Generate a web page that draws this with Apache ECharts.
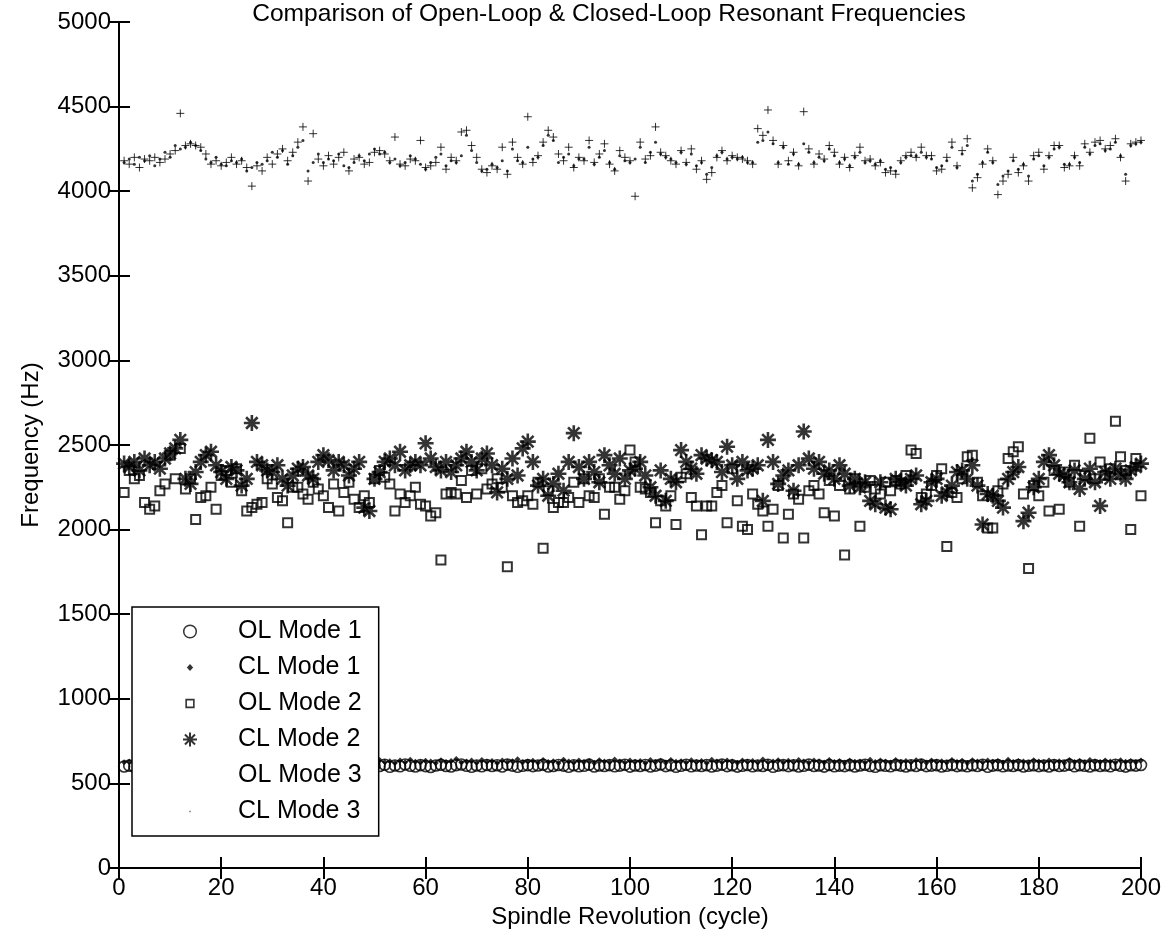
<!DOCTYPE html>
<html>
<head>
<meta charset="utf-8">
<script src="https://cdn.jsdelivr.net/npm/echarts@6/dist/echarts.min.js"></script>
<style>html,body{margin:0;padding:0;background:#fff}#c{width:1164px;height:941px}</style>
</head>
<body>
<div id="c"></div>
<script>
// x tick labels 0..200 step 20 ; y tick labels 0..5000 step 500
const xTicks = [0,20,40,60,80,100,120,140,160,180,200];
const yTicks = [0,500,1000,1500,2000,2500,3000,3500,4000,4500,5000];
const seriesNames = ['OL Mode 1','CL Mode 1','OL Mode 2','CL Mode 2','OL Mode 3','CL Mode 3'];

const olMode1 = [
600,605,598,610,603,612,600,607,595,608,602,610,604,598,606,611,600,603,609,601,
605,599,612,604,600,608,603,597,610,606,601,609,604,600,612,605,598,607,603,610,
600,606,611,602,598,607,604,609,600,605,603,610,598,606,601,612,604,600,608,602,
597,606,610,603,600,608,612,604,598,606,601,609,603,607,600,611,605,598,604,608,
602,606,610,600,603,609,605,598,607,601,604,611,600,606,603,608,601,605,610,599,
606,603,609,600,605,612,602,607,598,604,610,601,606,603,608,600,605,611,602,607,
599,604,609,601,606,603,610,598,605,608,602,607,600,604,611,603,606,599,609,601,
605,602,608,600,606,610,603,598,607,604,601,609,605,600,607,603,611,602,605,608,
600,604,609,602,606,601,607,603,610,598,605,608,601,606,603,609,600,604,607,602,
606,600,609,603,605,611,601,607,604,600,608,603,606,601,610,604,599,607,605,609];

const clMode1 = [
625,630,618,635,622,640,628,620,633,626,638,624,630,621,636,627,632,619,641,625,
629,634,622,637,626,631,620,639,627,633,624,636,628,621,642,630,625,634,619,637,
623,632,628,640,626,621,635,629,633,622,638,627,631,620,636,625,640,628,623,634,
630,621,637,626,632,644,624,629,635,622,639,628,633,621,636,627,631,642,625,630,
634,622,638,626,631,620,640,629,624,635,627,633,621,637,629,625,641,630,623,636,
628,632,620,638,626,634,622,639,628,631,624,637,627,633,621,640,629,625,635,630,
622,636,628,632,624,641,627,630,637,623,634,626,639,629,622,635,631,624,638,627,
633,621,636,628,630,624,640,626,635,629,623,638,627,632,625,637,630,622,636,628,
631,624,639,627,634,621,637,629,626,635,628,632,623,640,626,633,630,624,637,629,
625,636,628,631,622,639,627,634,624,638,629,626,635,630,623,637,628,632,625,636];

const olMode2 = [
2220,2350,2300,2320,2160,2120,2140,2230,2270,2440,2300,2480,2240,2300,2060,2190,2200,2250,2120,2320,
2350,2280,2360,2230,2110,2130,2150,2160,2300,2270,2190,2170,2040,2250,2250,2210,2180,2280,2240,2200,
2130,2270,2110,2220,2280,2180,2130,2200,2160,2300,2350,2310,2270,2110,2210,2160,2200,2250,2150,2140,
2080,2100,1820,2210,2220,2210,2290,2190,2350,2210,2360,2240,2270,2300,2250,1780,2200,2160,2170,2200,
2150,2280,1890,2230,2130,2160,2160,2190,2280,2160,2300,2200,2190,2300,2090,2250,2250,2180,2230,2470,
2400,2250,2240,2220,2040,2170,2140,2200,2030,2310,2330,2190,2140,1970,2140,2140,2220,2260,2040,2360,
2170,2020,2000,2210,2150,2110,2020,2120,2260,1950,2090,2210,2180,1950,2230,2260,2210,2100,2290,2080,
2260,1850,2240,2300,2020,2250,2290,2240,2210,2280,2230,2290,2270,2320,2470,2450,2190,2210,2260,2320,
2360,1900,2220,2190,2300,2430,2440,2280,2200,2010,2010,2230,2270,2420,2460,2490,2210,1770,2260,2200,
2280,2110,2350,2120,2340,2280,2380,2020,2320,2540,2300,2400,2320,2360,2640,2430,2350,2000,2420,2200];

const clMode2 = [
2390,2370,2400,2350,2420,2380,2400,2360,2420,2450,2480,2530,2300,2270,2340,2400,2440,2460,2380,2340,
2300,2370,2350,2260,2300,2630,2400,2380,2350,2340,2380,2300,2260,2320,2360,2370,2320,2300,2400,2440,
2410,2350,2400,2380,2320,2360,2400,2130,2110,2300,2340,2400,2420,2380,2460,2350,2380,2400,2380,2510,
2420,2370,2350,2400,2340,2380,2420,2460,2400,2350,2420,2450,2380,2220,2360,2300,2420,2320,2480,2520,
2400,2260,2300,2200,2270,2330,2230,2400,2570,2370,2300,2400,2340,2280,2440,2380,2330,2420,2300,2350,
2360,2400,2320,2250,2200,2350,2170,2300,2280,2470,2400,2360,2330,2440,2420,2410,2400,2340,2490,2380,
2300,2400,2350,2360,2380,2170,2530,2400,2270,2320,2350,2230,2380,2580,2420,2360,2400,2330,2350,2300,
2380,2330,2260,2300,2250,2280,2170,2150,2280,2130,2120,2300,2280,2260,2300,2320,2150,2170,2280,2300,
2200,2220,2260,2340,2350,2300,2380,2260,2030,2210,2200,2170,2130,2300,2340,2370,2050,2100,2250,2300,
2400,2440,2380,2330,2320,2280,2350,2240,2300,2360,2280,2140,2340,2300,2360,2330,2300,2350,2370,2390];

const olMode3 = [
4180,4160,4200,4140,4190,4180,4200,4170,4190,4220,4240,4460,4270,4280,4270,4260,4220,4160,4180,4150,
4170,4200,4160,4180,4140,4030,4150,4120,4200,4160,4220,4250,4180,4230,4290,4380,4060,4340,4190,4150,
4210,4160,4200,4230,4120,4190,4200,4160,4170,4230,4240,4220,4180,4320,4160,4150,4190,4180,4300,4140,
4150,4170,4260,4130,4200,4180,4350,4360,4270,4200,4130,4110,4150,4130,4260,4100,4290,4200,4160,4440,
4170,4210,4290,4360,4320,4220,4180,4260,4140,4200,4180,4300,4170,4220,4280,4160,4120,4240,4200,4180,
3970,4290,4190,4210,4380,4230,4210,4180,4160,4240,4170,4250,4130,4180,4070,4110,4200,4240,4180,4210,
4200,4190,4180,4160,4370,4330,4480,4300,4160,4270,4180,4230,4150,4470,4250,4160,4220,4190,4270,4230,
4160,4200,4140,4210,4260,4180,4190,4150,4170,4110,4120,4100,4180,4210,4230,4200,4260,4210,4210,4120,
4130,4200,4290,4150,4240,4310,4020,4080,4160,4250,4180,3980,4060,4100,4200,4110,4150,4060,4210,4230,
4130,4210,4270,4270,4140,4150,4210,4150,4280,4230,4290,4300,4250,4270,4310,4200,4060,4280,4290,4300];

const clMode3 = [
4170,4190,4160,4200,4180,4210,4150,4190,4230,4200,4270,4250,4260,4290,4270,4240,4190,4170,4200,4160,
4150,4180,4170,4190,4120,4140,4170,4160,4180,4230,4200,4240,4160,4210,4260,4300,4120,4170,4220,4170,
4190,4180,4220,4150,4140,4170,4210,4180,4220,4250,4220,4230,4170,4190,4150,4170,4210,4190,4160,4130,
4170,4200,4220,4150,4180,4170,4210,4330,4240,4170,4120,4130,4160,4140,4180,4120,4250,4180,4170,4260,
4190,4200,4270,4330,4300,4170,4200,4220,4150,4190,4190,4260,4160,4200,4240,4170,4130,4210,4180,4170,
4190,4260,4170,4230,4290,4220,4200,4190,4170,4230,4160,4220,4150,4170,4100,4140,4210,4230,4190,4200,
4190,4200,4170,4170,4290,4300,4350,4280,4170,4260,4160,4220,4160,4280,4230,4170,4200,4180,4250,4210,
4170,4190,4150,4200,4230,4170,4180,4160,4180,4130,4140,4120,4170,4200,4210,4210,4230,4200,4190,4140,
4150,4180,4260,4140,4220,4270,4060,4100,4170,4230,4170,4040,4090,4120,4180,4130,4160,4090,4190,4210,
4150,4200,4250,4260,4160,4160,4200,4170,4260,4220,4270,4280,4240,4250,4290,4210,4100,4270,4280,4290];

const FONT = '"Liberation Sans", Arial, Helvetica, sans-serif';
const toPairs = arr => arr.map((v, i) => [i + 1, v]);

const STAR = 'path://M0,-1L0,1M-1,0L1,0M-0.72,-0.72L0.72,0.72M-0.72,0.72L0.72,-0.72';
const PLUS = 'path://M0,-1L0,1M-1,0L1,0';
// legend icons: invisible corner moves keep the icon box, the visible part sets the size
const ICON_DOT = 'path://M-1,-1M1,1M-0.45,0L0,-0.5L0.45,0L0,0.5Z';
const ICON_SQ = 'path://M-1,-1M1,1M-0.55,-0.55L0.55,-0.55L0.55,0.55L-0.55,0.55Z';
const ICON_CIRC = 'path://M-1,-1M1,1M0.9,0A0.9,0.9,0,1,1,-0.9,0A0.9,0.9,0,1,1,0.9,0Z';
const ICON_PT = 'path://M-1,-1M1,1M-0.12,-0.12L0.12,-0.12L0.12,0.12L-0.12,0.12Z';

const chart = echarts.init(document.getElementById('c'), null, {renderer: 'canvas'});

const hollow = w => ({color: 'rgba(0,0,0,0)', borderColor: '#000', borderWidth: w});

const axisCommon = {
  axisLine: {show: true, lineStyle: {color: '#000', width: 2}},
  axisTick: {show: true, inside: true, length: 11, lineStyle: {color: '#000', width: 2}},
  splitLine: {show: false}
};

const option = {
  animation: false,
  backgroundColor: '#fff',
  title: {
    text: 'Comparison of Open-Loop & Closed-Loop Resonant Frequencies',
    left: 604, top: -3, textAlign: 'center',
    textStyle: {fontFamily: FONT, fontSize: 24.6, fontWeight: 'normal', color: '#000'}
  },
  grid: {left: 119, right: 22, top: 22, bottom: 73, containLabel: false},
  legend: {
    orient: 'vertical', left: 132, top: 607,
    backgroundColor: '#fff', borderColor: '#000', borderWidth: 1.5,
    padding: [12, 17, 12, 50],
    itemWidth: 86, itemHeight: 14, itemGap: 11,
    selectedMode: false,
    textStyle: {fontFamily: FONT, fontSize: 25, color: '#000', lineHeight: 25},
    data: [
      {name: seriesNames[0], icon: ICON_CIRC, itemStyle: hollow(1.5)},
      {name: seriesNames[1], icon: ICON_DOT, itemStyle: {color: '#000', borderWidth: 0}},
      {name: seriesNames[2], icon: ICON_SQ, itemStyle: hollow(1.6)},
      {name: seriesNames[3], icon: STAR, itemStyle: hollow(2)},
      {name: seriesNames[4], icon: ICON_SQ, itemStyle: {opacity: 0}},
      {name: seriesNames[5], icon: ICON_PT, itemStyle: {color: '#666', borderWidth: 0}}
    ]
  },
  xAxis: [Object.assign({
    type: 'value', min: xTicks[0], max: xTicks[xTicks.length - 1], interval: xTicks[1] - xTicks[0],
    name: 'Spindle Revolution (cycle)', nameLocation: 'middle', nameGap: 35,
    nameTextStyle: {fontFamily: FONT, fontSize: 24, color: '#000'},
    axisLabel: {fontFamily: FONT, fontSize: 24, color: '#000', margin: 8, formatter: v => String(v)}
  }, axisCommon), Object.assign({
    type: 'value', min: xTicks[0], max: xTicks[xTicks.length - 1], interval: xTicks[1] - xTicks[0], position: 'top',
    axisLabel: {show: false}
  }, axisCommon)],
  yAxis: [Object.assign({
    type: 'value', min: yTicks[0], max: yTicks[yTicks.length - 1], interval: yTicks[1] - yTicks[0],
    name: 'Frequency (Hz)', nameLocation: 'middle', nameGap: 76, nameRotate: 90,
    nameTextStyle: {fontFamily: FONT, fontSize: 24, color: '#000'},
    axisLabel: {fontFamily: FONT, fontSize: 24, color: '#000', margin: 8, formatter: v => String(v)}
  }, axisCommon), Object.assign({
    type: 'value', min: yTicks[0], max: yTicks[yTicks.length - 1], interval: yTicks[1] - yTicks[0], position: 'right',
    axisLabel: {show: false}
  }, axisCommon)],
  series: [
    {name: seriesNames[0], type: 'scatter', data: toPairs(olMode1), symbol: 'circle', symbolSize: 11, itemStyle: hollow(1.6), z: 2},
    {name: seriesNames[1], type: 'scatter', data: toPairs(clMode1), symbol: 'diamond', symbolSize: 6, itemStyle: {color: '#000'}, z: 3},
    {name: seriesNames[2], type: 'scatter', data: toPairs(olMode2), symbol: 'rect', symbolSize: 9, itemStyle: hollow(2), z: 2},
    {name: seriesNames[3], type: 'scatter', data: toPairs(clMode2), symbol: STAR, symbolSize: 16, itemStyle: hollow(2.6), z: 3},
    {name: seriesNames[4], type: 'scatter', data: toPairs(olMode3), symbol: PLUS, symbolSize: 8, itemStyle: hollow(1), z: 2},
    {name: seriesNames[5], type: 'scatter', data: toPairs(clMode3), symbol: 'circle', symbolSize: 3, itemStyle: {color: '#000'}, z: 3}
  ]
};
chart.setOption(option);
</script>
</body>
</html>
